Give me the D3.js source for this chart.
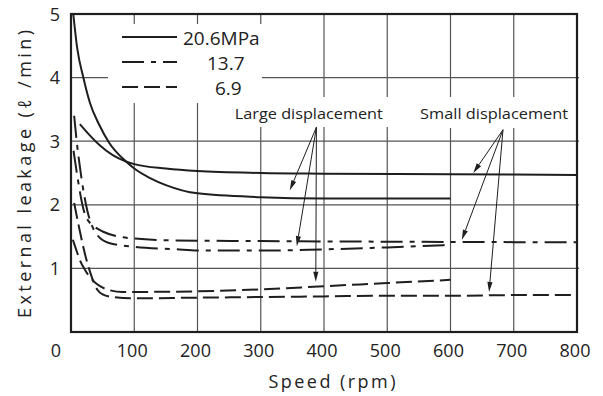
<!DOCTYPE html>
<html><head><meta charset="utf-8">
<script src="https://cdn.jsdelivr.net/npm/d3@7"></script>
<style>body{margin:0;background:#fff}svg{display:block}text{font-family:"Open Sans",sans-serif;fill:#222}</style>
</head><body><svg id="c" width="603" height="396"></svg>
<script>
// ---- data ----
const xTicks = [0,100,200,300,400,500,600,700,800];
const yTicks = [1,2,3,4,5];
const legendLabels = ["20.6MPa","13.7","6.9"];
// [rpm, leakage]
const solidLarge = [[3.6,5.0],[10,4.45],[19.5,4.0],[30,3.6],[45,3.25],[60,2.98],[87,2.68],[100,2.57],[125,2.42],[150,2.31],[200,2.18],[300,2.12],[400,2.1],[500,2.1],[600,2.1]];
const solidSmall = [[14,3.27],[29,3.1],[45,2.94],[66,2.78],[87,2.68],[100,2.64],[150,2.57],[200,2.53],[300,2.5],[400,2.49],[600,2.48],[800,2.47]];
const dashDotLarge = [[5,3.4],[9,3.0],[14,2.6],[20,2.2],[26,1.9],[32,1.7],[42,1.52],[60,1.4],[100,1.34],[166,1.3],[200,1.28],[300,1.28],[400,1.3],[500,1.33],[600,1.37]];
const dashDotSmall = [[4,2.85],[10,2.45],[16,2.1],[22,1.85],[28,1.74],[34,1.68],[50,1.58],[76,1.5],[100,1.47],[166,1.44],[300,1.43],[500,1.42],[800,1.41]];
const dashedLarge = [[3,1.45],[8,1.3],[14,1.13],[22,0.98],[30,0.86],[38,0.78],[46,0.72],[60,0.66],[82,0.63],[100,0.63],[200,0.64],[300,0.67],[400,0.72],[500,0.77],[600,0.82]];
const dashedSmall = [[5,2.03],[12,1.68],[18,1.4],[24,1.15],[30,0.95],[36,0.78],[42,0.66],[50,0.59],[66,0.55],[100,0.53],[200,0.54],[300,0.55],[400,0.56],[500,0.57],[600,0.57],[700,0.58],[800,0.58]];
// annotations (data units)
const largeNote = {text:"Large displacement", at:[259,3.35], apex:[388,3.22], tips:[[346,2.23],[357,1.35],[387,0.79]]};
const smallNote = {text:"Small displacement", at:[552,3.35], apex:[683,3.18], tips:[[636,2.5],[618,1.45],[661,0.63]]};

// ---- drawing ----
const svg = d3.select("#c");
const x = d3.scaleLinear([0,800],[71,577]);
const y = d3.scaleLinear([0,5],[332,14]);
const ink = "#1e1e1e";

// grid
const g = svg.append("g");
g.selectAll(".vg").data(xTicks.slice(1,-1)).join("line")
  .attr("x1",d=>x(d)).attr("x2",d=>x(d)).attr("y1",y(5)).attr("y2",y(0))
  .attr("stroke","#555").attr("stroke-width",1.2);
g.selectAll(".hg").data(yTicks.slice(0,-1)).join("line")
  .attr("x1",x(0)).attr("x2",x(800)+2).attr("y1",d=>y(d)).attr("y2",d=>y(d))
  .attr("stroke","#555").attr("stroke-width",1.2);

// white masks behind legend and notes
svg.append("rect").attr("x",108).attr("y",24).attr("width",164).attr("height",52).attr("fill","#fff");
svg.append("rect").attr("x",108).attr("y",76).attr("width",154).attr("height",27).attr("fill","#fff");
svg.append("rect").attr("x",x(largeNote.at[0])-4).attr("y",97).attr("width",158).attr("height",30).attr("fill","#fff");
svg.append("rect").attr("x",x(smallNote.at[0])-4).attr("y",97).attr("width",156).attr("height",31).attr("fill","#fff");

// curves
const line = d3.line().x(d=>x(d[0])).y(d=>y(d[1])).curve(d3.curveMonotoneX);
const DD = "22,7,5,7", DA = "16,6";
const series = [
  {d:solidLarge, dash:null},{d:solidSmall, dash:null},
  {d:dashDotLarge, dash:DD},{d:dashDotSmall, dash:DD},
  {d:dashedLarge, dash:DA},{d:dashedSmall, dash:DA}
];
svg.append("g").selectAll("path").data(series).join("path")
  .attr("d",s=>line(s.d)).attr("fill","none").attr("stroke",ink)
  .attr("stroke-width",2).attr("stroke-dasharray",s=>s.dash);

// legend
const legDash = [null, DD, DA];
const legY = [37,62,87];
const legTextX = [183,207,215];
const lg = svg.append("g");
lg.selectAll("line").data(legendLabels).join("line")
  .attr("x1",122).attr("x2",177).attr("y1",(d,i)=>legY[i]).attr("y2",(d,i)=>legY[i])
  .attr("stroke",ink).attr("stroke-width",2).attr("stroke-dasharray",(d,i)=>legDash[i]);
lg.selectAll("text").data(legendLabels).join("text")
  .attr("x",(d,i)=>legTextX[i]).attr("y",(d,i)=>legY[i]+8)
  .attr("font-size",19).text(d=>d);

// annotations
function note(n){
  svg.append("text").attr("x",x(n.at[0])).attr("y",y(n.at[1]))
    .attr("font-size",15).attr("textLength",148).attr("lengthAdjust","spacingAndGlyphs").text(n.text);
  const ax=x(n.apex[0]), ay=y(n.apex[1]);
  n.tips.forEach(t=>{
    const tx=x(t[0]), ty=y(t[1]);
    const dx=tx-ax, dy=ty-ay, L=Math.hypot(dx,dy), ux=dx/L, uy=dy/L;
    const hl=10, hw=2.6;
    const bx=tx-ux*hl, by=ty-uy*hl;
    svg.append("line").attr("x1",ax).attr("y1",ay).attr("x2",bx).attr("y2",by)
      .attr("stroke",ink).attr("stroke-width",1);
    svg.append("path").attr("d",`M${tx},${ty}L${bx-uy*hw},${by+ux*hw}L${bx+uy*hw},${by-ux*hw}Z`).attr("fill",ink);
  });
}
note(largeNote); note(smallNote);

// frame
svg.append("rect").attr("x",x(0)).attr("y",y(5)).attr("width",x(800)-x(0)).attr("height",y(0)-y(5))
  .attr("fill","none").attr("stroke",ink).attr("stroke-width",2.2);

// tick labels
svg.append("g").selectAll("text").data(xTicks).join("text")
  .attr("x",d=>d===0?x(d)-15:x(d)-2).attr("y",357).attr("text-anchor","middle")
  .attr("font-size",18).text(d=>d);
svg.append("g").selectAll("text").data(yTicks).join("text")
  .attr("x",60).attr("y",d=>y(d)+6.5).attr("text-anchor","end")
  .attr("font-size",18).text(d=>d);

// axis titles
svg.append("text").attr("x",332).attr("y",388).attr("text-anchor","middle")
  .attr("font-size",18).attr("textLength",127).attr("lengthAdjust","spacing").text("Speed (rpm)");
svg.append("text").attr("transform","translate(31,174) rotate(-90)").attr("text-anchor","middle")
  .attr("font-size",18).attr("textLength",288).attr("lengthAdjust","spacing").text("External leakage (ℓ /min)");
</script></body></html>
